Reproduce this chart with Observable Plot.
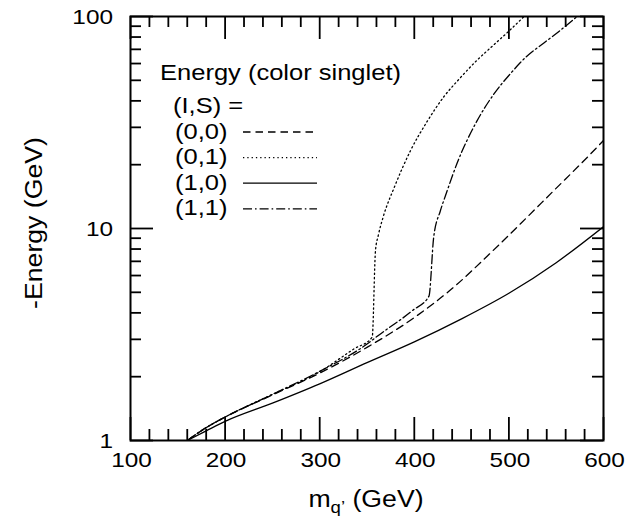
<!DOCTYPE html>
<html>
<head>
<meta charset="utf-8">
<script src="https://cdn.jsdelivr.net/npm/d3@7"></script>
<script src="https://cdn.jsdelivr.net/npm/@observablehq/plot@0.6"></script>
<style>
  body { margin: 0; background: #fff; }
  #chart svg { display: block; }
</style>
</head>
<body>
<div id="chart"></div>
<script>
// ---- tick values and labels ----
const xMajor = [100, 200, 300, 400, 500, 600];
const xMajorLabels = ["100", "200", "300", "400", "500", "600"];
const xMinor = [120, 140, 160, 180, 220, 240, 260, 280, 320, 340, 360, 380,
                420, 440, 460, 480, 520, 540, 560, 580];
const yMajor = [1, 10, 100];
const yMajorLabels = ["1", "10", "100"];
const yMinor = [2, 3, 4, 5, 6, 7, 8, 9, 20, 30, 40, 50, 60, 70, 80, 90];

// ---- series (m_q' in GeV, -Energy in GeV) ----
const seriesNames = ["(0,0)", "(0,1)", "(1,0)", "(1,1)"];

const m00 = [160, 180, 200, 250, 300, 350, 400, 442, 477, 512, 547.5, 583, 600];
const e00 = [1.0, 1.15, 1.29, 1.64, 2.08, 2.75, 3.8, 5.3, 7.4, 10.5, 15.1, 21.7, 26];

const m01 = [160, 180, 200, 250, 300, 336, 355.5, 359, 362, 367, 379, 396, 414, 431, 449, 466, 484, 502, 516];
const e01 = [1.0, 1.15, 1.29, 1.65, 2.11, 2.7, 3.07, 7.9, 9.3, 11.3, 15.7, 23.3, 32.2, 41.7, 51.6, 62, 73.5, 87, 100];

const m10 = [160, 180, 200, 250, 300, 350, 400, 450, 500, 550, 600];
const e10 = [1.0, 1.11, 1.23, 1.5, 1.85, 2.33, 2.92, 3.75, 4.95, 6.9, 10.2];

const m11 = [160, 180, 200, 250, 300, 350, 362, 398, 415.5, 420.5, 427.5, 433, 445, 466, 484, 502, 519, 537, 555, 572];
const e11 = [1.0, 1.15, 1.29, 1.65, 2.12, 2.85, 3.13, 4.1, 4.8, 9.1, 12.1, 14.3, 20.2, 32, 43, 54, 65, 75, 86.5, 100];

const seriesM = [m00, m01, m10, m11];
const seriesE = [e00, e01, e10, e11];

// ---- styles ----
const dashes = {"(0,0)": "7.5,5", "(0,1)": "1.3,3", "(1,0)": null, "(1,1)": "9,3,1.6,3"};

// table for the library
const table = seriesNames.flatMap((s, i) =>
  seriesM[i].map((m, j) => ({series: s, m, e: seriesE[i][j]})));

const W = 631, H = 521;
const mL = 130, mR = 28, mT = 16, mB = 81;
const innerW = W - mL - mR, innerH = H - mT - mB;
const minorLen = 11, majorLen = 23;
const font = "'Liberation Sans', Arial, Helvetica, sans-serif";
const SX = 1.16;

function txt(g, str, x, y, size, anchor = "start", rotate = 0) {
  return g.append("text")
    .attr("transform", `translate(${x},${y}) rotate(${rotate}) scale(${SX},1)`)
    .attr("text-anchor", anchor)
    .attr("font-size", size)
    .attr("fill", "black")
    .text(str);
}

const tickStyle = {stroke: "black", strokeWidth: 1.8};

const lineMarks = seriesNames.map(s =>
  Plot.line(table.filter(d => d.series === s), {
    x: "m", y: "e", stroke: "black", strokeWidth: 1.3, curve: "monotone-x",
    strokeDasharray: dashes[s] ?? undefined, clip: true
  }));

const textLayer = (index, scales, values, dims) => {
  const g = d3.create("svg:g").attr("font-family", font);
  // x tick labels
  xMajor.forEach((v, i) => txt(g, xMajorLabels[i], scales.x(v) + 1.5, mT + innerH + 27, 21, "middle"));
  // y tick labels
  yMajor.forEach((v, i) => txt(g, yMajorLabels[i], mL - 17, scales.y(v) + 7.5, 21, "end"));
  // axis titles
  txt(g, "-Energy (GeV)", 41.5, 223, 23, "middle", -90);
  const xl = g.append("text")
    .attr("transform", `translate(366,507) scale(${SX},1)`)
    .attr("text-anchor", "middle").attr("font-size", 23).attr("fill", "black");
  xl.append("tspan").text("m");
  xl.append("tspan").attr("font-size", 16).attr("dy", 6).text("q\u2019");
  xl.append("tspan").attr("dy", -6).text(" (GeV)");
  // legend
  txt(g, "Energy (color singlet)", 160, 80, 22);
  txt(g, "(I,S) =", 173, 112.5, 22);
  seriesNames.forEach((s, i) => {
    const base = 138.5 + i * 25.6;
    txt(g, s, 175, base, 22);
    const ln = g.append("line")
      .attr("x1", 243).attr("x2", 317)
      .attr("y1", base - 6.5).attr("y2", base - 6.5)
      .attr("stroke", "black").attr("stroke-width", 1.3);
    if (dashes[s]) ln.attr("stroke-dasharray", dashes[s]);
  });
  return g.node();
};

const chart = Plot.plot({
  width: W, height: H,
  marginLeft: mL, marginRight: mR, marginTop: mT, marginBottom: mB,
  style: {background: "white", fontFamily: font},
  x: {type: "linear", domain: [100, 600], axis: null},
  y: {type: "log", domain: [1, 100], axis: null},
  marks: [
    ...lineMarks,
    // bottom ticks
    Plot.tickX(xMinor, {x: d => d, insetTop: innerH - minorLen, ...tickStyle}),
    Plot.tickX(xMajor, {x: d => d, insetTop: innerH - majorLen, ...tickStyle}),
    // top ticks
    Plot.tickX(xMinor, {x: d => d, insetBottom: innerH - minorLen, ...tickStyle}),
    Plot.tickX(xMajor, {x: d => d, insetBottom: innerH - majorLen, ...tickStyle}),
    // left ticks
    Plot.tickY(yMinor, {y: d => d, insetRight: innerW - minorLen, ...tickStyle}),
    Plot.tickY(yMajor, {y: d => d, insetRight: innerW - majorLen, ...tickStyle}),
    // right ticks
    Plot.tickY(yMinor, {y: d => d, insetLeft: innerW - minorLen, ...tickStyle}),
    Plot.tickY(yMajor, {y: d => d, insetLeft: innerW - majorLen, ...tickStyle}),
    Plot.frame({stroke: "black", strokeWidth: 2}),
    textLayer
  ]
});

document.getElementById("chart").appendChild(chart);
</script>
</body>
</html>
